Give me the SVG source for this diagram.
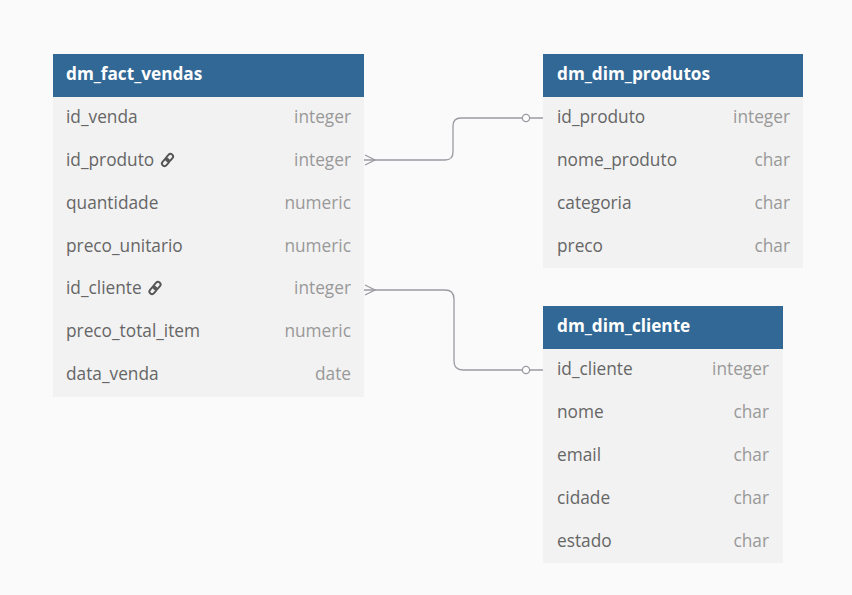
<svg xmlns="http://www.w3.org/2000/svg" width="852" height="595" viewBox="0 0 852 595">
<defs>
<style>
.bg{fill:#fafafa}
.hdr{fill:#316896}
.row{fill:#f2f2f2}
.title{font-family:"Open Sans","Noto Sans",sans-serif;font-size:17.2px;font-weight:700;fill:#ffffff}
.col{font-family:"Open Sans","Noto Sans",sans-serif;font-size:17.3px;fill:#666666}
.typ{font-family:"Open Sans","Noto Sans",sans-serif;font-size:17.3px;fill:#999999;text-anchor:end}
.conn{fill:none;stroke:#9a9aa2;stroke-width:1.3}
.dot{fill:#ffffff;stroke:#9a9aa2;stroke-width:1.3}
.link{fill:none;stroke:#555555;stroke-width:1.9}
</style>
<g id="linkicon">
<rect x="-2.6" y="-7.2" width="5.2" height="8.2" rx="2.6" transform="rotate(40)" class="link"/>
<rect x="-2.6" y="-1" width="5.2" height="8.2" rx="2.6" transform="rotate(40)" class="link"/>
</g>
</defs>
<rect class="bg" x="0" y="0" width="852" height="595"/>

<g id="connectors">
<path class="conn" d="M364,160 H445 Q453,160 453,152 V126 Q453,118 461,118 H543"/>
<path class="conn" d="M365,155 L375,160 L365,165"/>
<circle class="dot" cx="526" cy="118" r="3.6"/>
<path class="conn" d="M364,290 H445 Q454,290 454,299 V361 Q454,370 463,370 H543"/>
<path class="conn" d="M365,285 L375,290 L365,295"/>
<circle class="dot" cx="526" cy="370" r="3.6"/>
</g>

<g id="dm_fact_vendas">
<rect class="row" x="53" y="97" width="311" height="300"/>
<rect class="hdr" x="53" y="54" width="311" height="43"/>
<text class="title" x="66" y="80">dm_fact_vendas</text>
<text class="col" x="66" y="123">id_venda</text><text class="typ" x="351" y="123">integer</text>
<text class="col" x="66" y="166">id_produto</text><use href="#linkicon" x="167.5" y="160"/><text class="typ" x="351" y="166">integer</text>
<text class="col" x="66" y="209">quantidade</text><text class="typ" x="351" y="209">numeric</text>
<text class="col" x="66" y="252">preco_unitario</text><text class="typ" x="351" y="252">numeric</text>
<text class="col" x="66" y="294">id_cliente</text><use href="#linkicon" x="155" y="288"/><text class="typ" x="351" y="294">integer</text>
<text class="col" x="66" y="337">preco_total_item</text><text class="typ" x="351" y="337">numeric</text>
<text class="col" x="66" y="380">data_venda</text><text class="typ" x="351" y="380">date</text>
</g>

<g id="dm_dim_produtos">
<rect class="row" x="543" y="97" width="260" height="171"/>
<rect class="hdr" x="543" y="54" width="260" height="43"/>
<text class="title" x="557" y="80">dm_dim_produtos</text>
<text class="col" x="557" y="123">id_produto</text><text class="typ" x="790" y="123">integer</text>
<text class="col" x="557" y="166">nome_produto</text><text class="typ" x="790" y="166">char</text>
<text class="col" x="557" y="209">categoria</text><text class="typ" x="790" y="209">char</text>
<text class="col" x="557" y="252">preco</text><text class="typ" x="790" y="252">char</text>
</g>

<g id="dm_dim_cliente">
<rect class="row" x="543" y="349" width="240" height="214"/>
<rect class="hdr" x="543" y="306" width="240" height="43"/>
<text class="title" x="557" y="332">dm_dim_cliente</text>
<text class="col" x="557" y="375">id_cliente</text><text class="typ" x="769" y="375">integer</text>
<text class="col" x="557" y="418">nome</text><text class="typ" x="769" y="418">char</text>
<text class="col" x="557" y="461">email</text><text class="typ" x="769" y="461">char</text>
<text class="col" x="557" y="504">cidade</text><text class="typ" x="769" y="504">char</text>
<text class="col" x="557" y="547">estado</text><text class="typ" x="769" y="547">char</text>
</g>
</svg>
